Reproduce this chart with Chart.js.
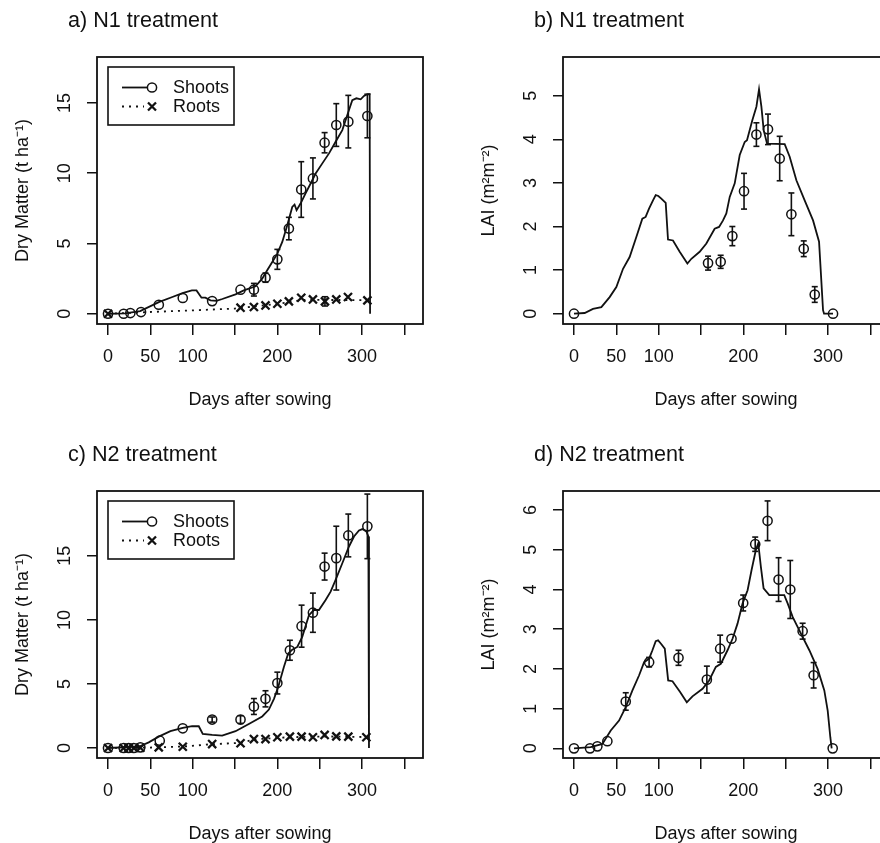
<!DOCTYPE html>
<html>
<head>
<meta charset="utf-8">
<script src="https://cdn.jsdelivr.net/npm/chart.js@4.4.1/dist/chart.umd.min.js"></script>
<style>
  html, body { margin: 0; padding: 0; background: #fff; width: 880px; height: 843px; overflow: hidden; }
  .panel { position: absolute; width: 440px; height: 420px; }
  .panel canvas { display: block; }
  .ttl { position: absolute; left: 68px; top: 9px; font: 21.6px "Liberation Sans", Arial, sans-serif;
         line-height: 1; color: #111; white-space: nowrap; }
</style>
</head>
<body>
<div class="panel" style="left:0;top:0"><canvas id="pa" width="440" height="420"></canvas><div class="ttl">a) N1 treatment</div></div>
<div class="panel" style="left:466px;top:0"><canvas id="pb" width="440" height="420"></canvas><div class="ttl">b) N1 treatment</div></div>
<div class="panel" style="left:0;top:434px"><canvas id="pc" width="440" height="420"></canvas><div class="ttl">c) N2 treatment</div></div>
<div class="panel" style="left:466px;top:434px"><canvas id="pd" width="440" height="420"></canvas><div class="ttl">d) N2 treatment</div></div>
<script>
// axis ticks (R drops 150/250/350 labels because they overlap)
var xTickVals = [0, 50, 100, 150, 200, 250, 300, 350];
var xTickLabels = ["0", "50", "100", "", "200", "", "300", ""];
var dmTicks = [0, 5, 10, 15];
var laiTicksN1 = [0, 1, 2, 3, 4, 5];
var laiTicksN2 = [0, 1, 2, 3, 4, 5, 6];

// a) N1 dry matter
var aSimDay = [0, 20, 38, 60, 76, 88, 99, 104.5, 110.4, 115, 121, 128, 135, 150.6, 160.4, 174.2, 182.1, 188, 194, 200, 205.8, 211.7, 217.6, 220.3, 222.7, 227.4, 233.3, 239.3, 245.2, 253.1, 261, 268.8, 276.7, 284.6, 288.5, 293.3, 298.4, 302.3, 306.3, 309, 309.5];
var aSimShoot = [0, 0.03, 0.19, 0.83, 1.19, 1.47, 1.66, 1.66, 1.14, 1.14, 0.95, 0.92, 1.05, 1.38, 1.66, 1.95, 2.5, 3.09, 3.68, 4.28, 5.11, 6.3, 7.6, 7.77, 7.37, 7.84, 8.56, 9.27, 9.98, 10.7, 11.41, 12.24, 13.07, 14.5, 15.2, 15.33, 15.26, 15.5, 15.62, 15.62, 0];
var aSimRootDay = [0, 40, 100, 150, 160, 200, 230, 260, 300, 309];
var aSimRoot = [0, 0.1, 0.24, 0.37, 0.43, 0.7, 0.98, 0.98, 0.97, 0.97];
var aObsDay = [0, 18.5, 26.4, 39, 60, 88.3, 123, 156.5, 172.3, 186, 200, 213.6, 228.2, 242, 255.8, 269.6, 283.8, 306.3];
var aObsShoot = [0, 0, 0.05, 0.12, 0.64, 1.12, 0.9, 1.71, 1.71, 2.57, 3.87, 6.06, 8.84, 9.63, 12.17, 13.43, 13.67, 14.07];
var aShootErr = [0, 0, 0, 0, 0, 0, 0, 0, 0.45, 0.33, 0.71, 0.8, 1.98, 1.46, 0.72, 1.52, 1.87, 1.55];
var aRootDay = [0, 156.5, 172.3, 186, 200, 213.6, 228.2, 242, 256.2, 269.6, 283.4, 306.3];
var aObsRoot = [0, 0.43, 0.48, 0.59, 0.71, 0.88, 1.14, 1.02, 0.88, 1.02, 1.19, 0.95];
var aRootErr = [0, 0, 0, 0, 0, 0, 0, 0, 0.33, 0, 0, 0];

// b) N1 LAI
var bSimDay = [0, 12.6, 22.4, 32.3, 42.1, 50, 57.9, 65.7, 73.6, 80.7, 84.6, 88.6, 93.3, 96.5, 99.6, 103.1, 108.3, 111, 116.9, 124.8, 133.9, 138.6, 148.4, 156.3, 166.1, 171.3, 176, 179.9, 183.9, 189.8, 195.7, 201.6, 204.3, 210.6, 215.4, 218.5, 221.3, 224, 228, 248.8, 254.7, 262.6, 272.4, 282.3, 289.4, 294.1, 295.3, 305.9];
var bSimLai = [0, 0.015, 0.11, 0.15, 0.38, 0.61, 1.03, 1.3, 1.76, 2.18, 2.22, 2.41, 2.6, 2.72, 2.7, 2.64, 2.54, 1.7, 1.68, 1.42, 1.15, 1.26, 1.42, 1.61, 1.95, 1.99, 2.14, 2.3, 2.68, 2.99, 3.64, 3.94, 3.98, 4.44, 4.75, 5.15, 4.75, 4.21, 3.9, 3.89, 3.6, 3.06, 2.6, 2.14, 1.65, 0.08, 0, 0];
var bObsDay = [0, 158.3, 173.2, 187, 200.8, 215.4, 229.1, 242.9, 256.7, 271.3, 284.3, 305.9];
var bObsLai = [0, 1.16, 1.19, 1.78, 2.81, 4.11, 4.23, 3.56, 2.28, 1.49, 0.44, 0];
var bLaiErr = [0, 0.16, 0.15, 0.22, 0.41, 0.27, 0.35, 0.51, 0.49, 0.18, 0.18, 0];

// c) N2 dry matter
var cSimDay = [0, 36.3, 48.1, 59.9, 73.7, 88.3, 99.3, 107.2, 111.9, 123, 134.8, 150.6, 166.3, 182.1, 190, 196, 201, 207.7, 212.8, 217.6, 223.5, 229.4, 237.3, 243.2, 249.1, 257, 262.9, 268.8, 276.7, 284.6, 290.5, 296.4, 300.4, 305.1, 307.5, 308.2];
var cSimShoot = [0, 0.1, 0.44, 0.89, 1.31, 1.57, 1.7, 1.7, 1.1, 1.02, 0.97, 1.31, 1.88, 2.46, 3.0, 3.84, 4.76, 6.32, 7.37, 7.68, 7.89, 8.68, 10.37, 10.77, 10.77, 11.55, 12.2, 13.12, 14.42, 15.73, 16.51, 16.98, 17.09, 16.91, 16.51, 0];
var cSimRootDay = [0, 40, 60, 90, 123, 157, 172, 200, 230, 260, 300, 308];
var cSimRoot = [0, 0.02, 0.05, 0.12, 0.3, 0.4, 0.66, 0.8, 0.87, 0.9, 0.86, 0.84];
var cObsDay = [0, 18.5, 24.4, 30.4, 38.2, 61.1, 88.3, 123, 156.5, 172.3, 186, 200, 214.8, 228.6, 242, 255.8, 269.6, 283.8, 306.3];
var cObsShoot = [0, 0, 0, 0, 0.05, 0.57, 1.54, 2.22, 2.22, 3.24, 3.84, 5.07, 7.63, 9.51, 10.56, 14.16, 14.82, 16.59, 17.3];
var cShootErr = [0, 0, 0, 0, 0, 0, 0, 0.2, 0.3, 0.62, 0.63, 0.85, 0.78, 1.64, 1.53, 1.05, 2.49, 1.67, 2.52];
var cRootDay = [0, 18.5, 24.4, 30.4, 38.2, 59.9, 88.3, 123, 156.5, 172.3, 186, 200, 214.8, 228.6, 242, 255.8, 269.6, 283.8, 305.1];
var cObsRoot = [0, 0, 0, 0, 0.02, 0.05, 0.1, 0.31, 0.37, 0.7, 0.7, 0.84, 0.89, 0.89, 0.84, 1.02, 0.91, 0.89, 0.84];

// d) N2 LAI
var dSimDay = [0, 19.7, 33.5, 43.4, 53.2, 61.1, 69, 76.9, 82.8, 88.7, 92.6, 96.5, 99.3, 102.5, 107.2, 111.2, 116.3, 125.3, 133.2, 139.9, 151.8, 159.6, 167.5, 173.4, 181.3, 187.2, 193.1, 199.1, 205, 209.7, 214.8, 217.6, 220.7, 223.9, 230.6, 248.3, 252.3, 258.2, 268, 277.9, 287.7, 295.6, 299.6, 302.7, 304.3];
var dSimLai = [0, 0.03, 0.11, 0.45, 0.7, 1.04, 1.46, 1.84, 2.17, 2.26, 2.47, 2.7, 2.72, 2.64, 2.51, 1.71, 1.69, 1.42, 1.16, 1.31, 1.5, 1.71, 2.05, 2.13, 2.47, 2.76, 3.14, 3.65, 3.98, 4.49, 5.0, 5.16, 4.57, 4.03, 3.86, 3.86, 3.65, 3.31, 2.89, 2.47, 2.0, 1.46, 0.95, 0.28, 0];
var dObsDay = [0, 18.9, 27.6, 39.4, 61.1, 88.7, 123.4, 156.9, 172.6, 186, 199.8, 214, 228.6, 241.6, 255.4, 270, 283, 305.5];
var dObsLai = [0, 0, 0.05, 0.18, 1.18, 2.17, 2.28, 1.73, 2.51, 2.76, 3.66, 5.14, 5.73, 4.25, 4.0, 2.95, 1.84, 0];
var dLaiErr = [0, 0, 0, 0, 0.22, 0.12, 0.19, 0.34, 0.34, 0, 0.2, 0.18, 0.5, 0.55, 0.73, 0.2, 0.32, 0];

(function () {
  "use strict";

  var FONT = '"Liberation Sans", Arial, Helvetica, sans-serif';
  var INK = "#111";
  Chart.defaults.font.family = FONT;
  Chart.defaults.font.size = 18;
  Chart.defaults.color = INK;

  function pts(xs, ys) {
    return xs.map(function (x, i) { return { x: x, y: ys[i] }; });
  }

  // one dataset per panel: lo, hi, gap, lo, hi, gap ...
  function errBars(xs, ys, es) {
    var out = [];
    xs.forEach(function (x, i) {
      if (!es[i]) return;
      out.push({ x: x, y: ys[i] - es[i] }, { x: x, y: ys[i] + es[i] }, { x: x, y: null });
    });
    return out;
  }

  function simLine(data, dotted) {
    return {
      data: data, borderColor: INK, borderWidth: 1.8, pointRadius: 0,
      tension: 0, fill: false, borderDash: dotted ? [2, 5] : [],
    };
  }

  function marks(data, style) {
    return {
      data: data, showLine: false, pointStyle: style,
      pointRadius: style === "circle" ? 4.6 : 5.7,
      pointBorderWidth: style === "circle" ? 1.5 : 2.3,
      pointBorderColor: INK, pointBackgroundColor: "rgba(0,0,0,0)",
    };
  }

  function bars(data) {
    return {
      data: data, borderColor: INK, borderWidth: 1.6, spanGaps: false,
      pointStyle: "line", pointRadius: 3, pointBorderWidth: 1.6, pointBorderColor: INK,
    };
  }

  var boxPlugin = {
    id: "rbox",
    afterDraw: function (chart) {
      var a = chart.chartArea, ctx = chart.ctx;
      ctx.save();
      ctx.strokeStyle = INK;
      ctx.lineWidth = 1.8;
      ctx.strokeRect(a.left, a.top, a.right - a.left, a.bottom - a.top);
      ctx.restore();
    },
  };

  // R-style legend: line sample + symbol, framed
  var legendPlugin = {
    id: "rlegend",
    afterDraw: function (chart) {
      var a = chart.chartArea, ctx = chart.ctx;
      var x0 = a.left + 11, y0 = a.top + 10;
      ctx.save();
      ctx.strokeStyle = INK;
      ctx.fillStyle = INK;
      ctx.lineWidth = 1.6;
      ctx.strokeRect(x0, y0, 126, 58);
      var rows = [
        { label: "Shoots", y: y0 + 20.5, dotted: false },
        { label: "Roots", y: y0 + 39.5, dotted: true },
      ];
      rows.forEach(function (r) {
        ctx.lineWidth = 1.8;
        ctx.setLineDash(r.dotted ? [2, 5] : []);
        ctx.beginPath();
        ctx.moveTo(x0 + 14, r.y);
        ctx.lineTo(x0 + (r.dotted ? 36 : 40), r.y);
        ctx.stroke();
        ctx.setLineDash([]);
        var sx = x0 + 44;
        ctx.beginPath();
        if (r.dotted) {
          ctx.lineWidth = 2.3;
          ctx.moveTo(sx - 4, r.y - 4); ctx.lineTo(sx + 4, r.y + 4);
          ctx.moveTo(sx - 4, r.y + 4); ctx.lineTo(sx + 4, r.y - 4);
        } else {
          ctx.lineWidth = 1.5;
          ctx.arc(sx, r.y, 4.6, 0, Math.PI * 2);
        }
        ctx.stroke();
        ctx.font = "18px " + FONT;
        ctx.textBaseline = "middle";
        ctx.textAlign = "left";
        ctx.fillText(r.label, x0 + 65, r.y + 1);
      });
      ctx.restore();
    },
  };

  function makePanel(id, datasets, yMin, yMax, yTicks, yTitle, yPad, withLegend) {
    var plugins = [boxPlugin];
    if (withLegend) plugins.push(legendPlugin);
    new Chart(document.getElementById(id), {
      type: "line",
      data: { datasets: datasets },
      plugins: plugins,
      options: {
        responsive: false,
        animation: false,
        events: [],
        layout: { padding: { left: 0, top: 57, right: 17, bottom: 0 } },
        plugins: { legend: { display: false }, tooltip: { enabled: false } },
        scales: {
          x: {
            type: "linear", min: -13, max: 372,
            afterBuildTicks: function (s) {
              s.ticks = xTickVals.map(function (v) { return { value: v }; });
            },
            afterFit: function (s) { s.height = 96; },
            border: { display: false },
            grid: { display: true, drawOnChartArea: false, drawTicks: true, tickLength: 11, color: INK, lineWidth: 1.5 },
            ticks: {
              autoSkip: false, maxRotation: 0, padding: 11,
              callback: function (v) { return xTickLabels[xTickVals.indexOf(v)]; },
            },
            title: { display: true, text: "Days after sowing", padding: { top: 0, bottom: 9 } },
          },
          y: {
            type: "linear", min: yMin, max: yMax,
            afterBuildTicks: function (s) {
              s.ticks = yTicks.map(function (v) { return { value: v }; });
            },
            afterFit: function (s) { s.width = 97; },
            border: { display: false },
            grid: { display: true, drawOnChartArea: false, drawTicks: true, tickLength: 10, color: INK, lineWidth: 1.5 },
            ticks: { minRotation: 90, maxRotation: 90, crossAlign: "center", padding: yPad },
            title: { display: true, text: yTitle, padding: { top: 12, bottom: 0 } },
          },
        },
      },
    });
  }

  makePanel("pa", [
    simLine(pts(aSimDay, aSimShoot), false),
    simLine(pts(aSimRootDay, aSimRoot), true),
    marks(pts(aObsDay, aObsShoot), "circle"),
    marks(pts(aRootDay, aObsRoot), "crossRot"),
    bars(errBars(aObsDay, aObsShoot, aShootErr).concat(errBars(aRootDay, aObsRoot, aRootErr))),
  ], -0.73, 18.27, dmTicks, "Dry Matter (t ha\u207B\u00B9)", 12, true);

  makePanel("pb", [
    simLine(pts(bSimDay, bSimLai), false),
    marks(pts(bObsDay, bObsLai), "circle"),
    bars(errBars(bObsDay, bObsLai, bLaiErr)),
  ], -0.237, 5.89, laiTicksN1, "LAI (m\u00B2m\u207B\u00B2)", 17, false);

  makePanel("pc", [
    simLine(pts(cSimDay, cSimShoot), false),
    simLine(pts(cSimRootDay, cSimRoot), true),
    marks(pts(cObsDay, cObsShoot), "circle"),
    marks(pts(cRootDay, cObsRoot), "crossRot"),
    bars(errBars(cObsDay, cObsShoot, cShootErr)),
  ], -0.78, 20.06, dmTicks, "Dry Matter (t ha\u207B\u00B9)", 12, true);

  makePanel("pd", [
    simLine(pts(dSimDay, dSimLai), false),
    marks(pts(dObsDay, dObsLai), "circle"),
    bars(errBars(dObsDay, dObsLai, dLaiErr)),
  ], -0.243, 6.48, laiTicksN2, "LAI (m\u00B2m\u207B\u00B2)", 17, false);
})();
</script>
</body>
</html>
